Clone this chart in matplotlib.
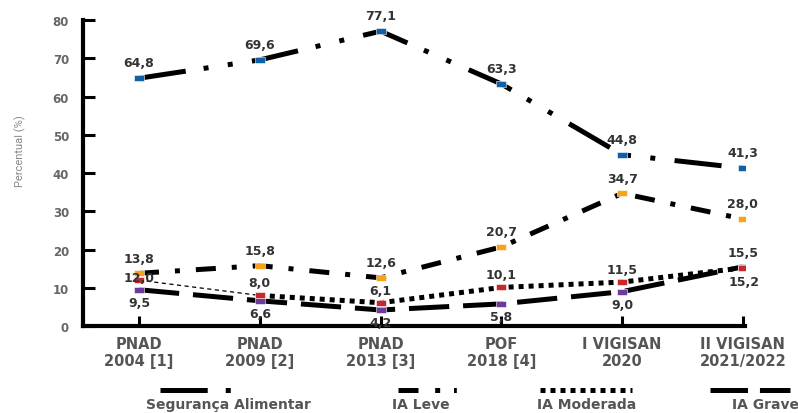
import matplotlib.pyplot as plt
from matplotlib.lines import Line2D

plt.rcParams['font.family'] = ['DejaVu Sans']
plt.rcParams['lines.scale_dashes'] = False

# --- Data ---
periods = ['PNAD\n2004 [1]', 'PNAD\n2009 [2]', 'PNAD\n2013 [3]',
           'POF\n2018 [4]', 'I VIGISAN\n2020', 'II VIGISAN\n2021/2022']
seguranca = [64.8, 69.6, 77.1, 63.3, 44.8, 41.3]
ia_leve = [13.8, 15.8, 12.6, 20.7, 34.7, 28.0]
ia_moderada = [12.0, 8.0, 6.1, 10.1, 11.5, 15.2]
ia_grave = [9.5, 6.6, 4.2, 5.8, 9.0, 15.5]
yticks = [0, 10, 20, 30, 40, 50, 60, 70, 80]

x = list(range(len(periods)))

fig = plt.figure(figsize=(7.98, 4.14), dpi=100)
ax = fig.add_axes([0.104, 0.21, 0.83, 0.739])

LW = 3.6
rect = [(-1, -0.65), (1, -0.65), (1, 0.65), (-1, 0.65), (-1, -0.65)]

# lines
ax.plot(x, seguranca, color='black', lw=LW, dashes=(34, 13, 3.6, 14, 3.6, 14), zorder=2)
ax.plot(x, ia_leve, color='black', lw=LW, dashes=(14.4, 11.5, 3.6, 11.5), zorder=2)
ax.plot(x[:2], ia_moderada[:2], color='black', lw=0.9, dashes=(3, 2.5), zorder=2)
ax.plot(x[1:], ia_moderada[1:], color='black', lw=LW, dashes=(3.6, 3.6), zorder=2)
ax.plot(x, ia_grave, color='black', lw=LW, dashes=(29, 10), zorder=2)

# markers
series = [(seguranca, '#1060a8'), (ia_leve, '#f7a21b'),
          (ia_grave, '#6b3a9c'), (ia_moderada, '#c8282a')]
for vals, col in series:
    ax.plot(x, vals, ls='none', marker=rect, ms=7, color=col, mec='white', mew=0.4, zorder=3)

# value labels
lab_kw = dict(textcoords='offset points', ha='center', va='center',
              fontsize=9, fontweight='bold', color='#333333', zorder=5)
def fmt(v):
    return f'{v:.1f}'.replace('.', ',')

for i, v in enumerate(seguranca):
    ax.annotate(fmt(v), (i, v), xytext=(0, 11), **lab_kw)
for i, v in enumerate(ia_leve):
    ax.annotate(fmt(v), (i, v), xytext=(0, 11), **lab_kw)
for i, v in enumerate(ia_moderada):
    if i == 0:
        off = (0, 2)
    elif i == 5:
        off = (1, -10)
    else:
        off = (0, 9)
    ax.annotate(fmt(v), (i, v), xytext=off, **lab_kw)
for i, v in enumerate(ia_grave):
    off = (0, 10) if i == 5 else (0, -9)
    ax.annotate(fmt(v), (i, v), xytext=off, **lab_kw)

# axes styling
ax.set_xlim(-0.464, 5.02)
ax.set_ylim(0, 80)
ax.set_yticks(yticks)
ax.set_xticks(x)
ax.set_xticklabels(periods, fontsize=10.5, fontweight='bold', color='#555555', linespacing=1.2)
ax.tick_params(axis='y', direction='in', length=8.6, width=2.2, pad=10,
               labelsize=8.5, labelcolor='#666666', color='black')
ax.tick_params(axis='x', direction='in', length=7, width=2.2, pad=7, color='black')
for t in ax.get_yticklabels():
    t.set_fontweight('bold')
for s in ['top', 'right']:
    ax.spines[s].set_visible(False)
for s in ['left', 'bottom']:
    ax.spines[s].set_linewidth(3)

fig.text(0.025, 0.635, 'Percentual (%)', rotation=90, ha='center', va='center',
         fontsize=8, color='#888888', family=['Liberation Sans Narrow', 'Roboto'])

# legend (handles above labels)
H = 414.0
W = 798.0
leg = [
    ('Segurança Alimentar', 228, (160, 231), (34, 13, 3.6, 100)),
    ('IA Leve', 421, (398, 458), (14.4, 12, 3.6, 10, 2, 100)),
    ('IA Moderada', 587, (540, 632), (3.6, 3.6)),
    ('IA Grave', 765, (710, 790), (27, 8.6)),
]
for name, cx, (x0, x1), d in leg:
    fig.add_artist(Line2D([x0 / W, x1 / W], [1 - 391 / H, 1 - 391 / H],
                          transform=fig.transFigure, color='black', lw=LW, dashes=d))
    fig.text(cx / W, 1 - 405 / H, name, ha='center', va='center',
             fontsize=10, fontweight='bold', color='#555555')

fig.savefig('out.png', dpi=100)
